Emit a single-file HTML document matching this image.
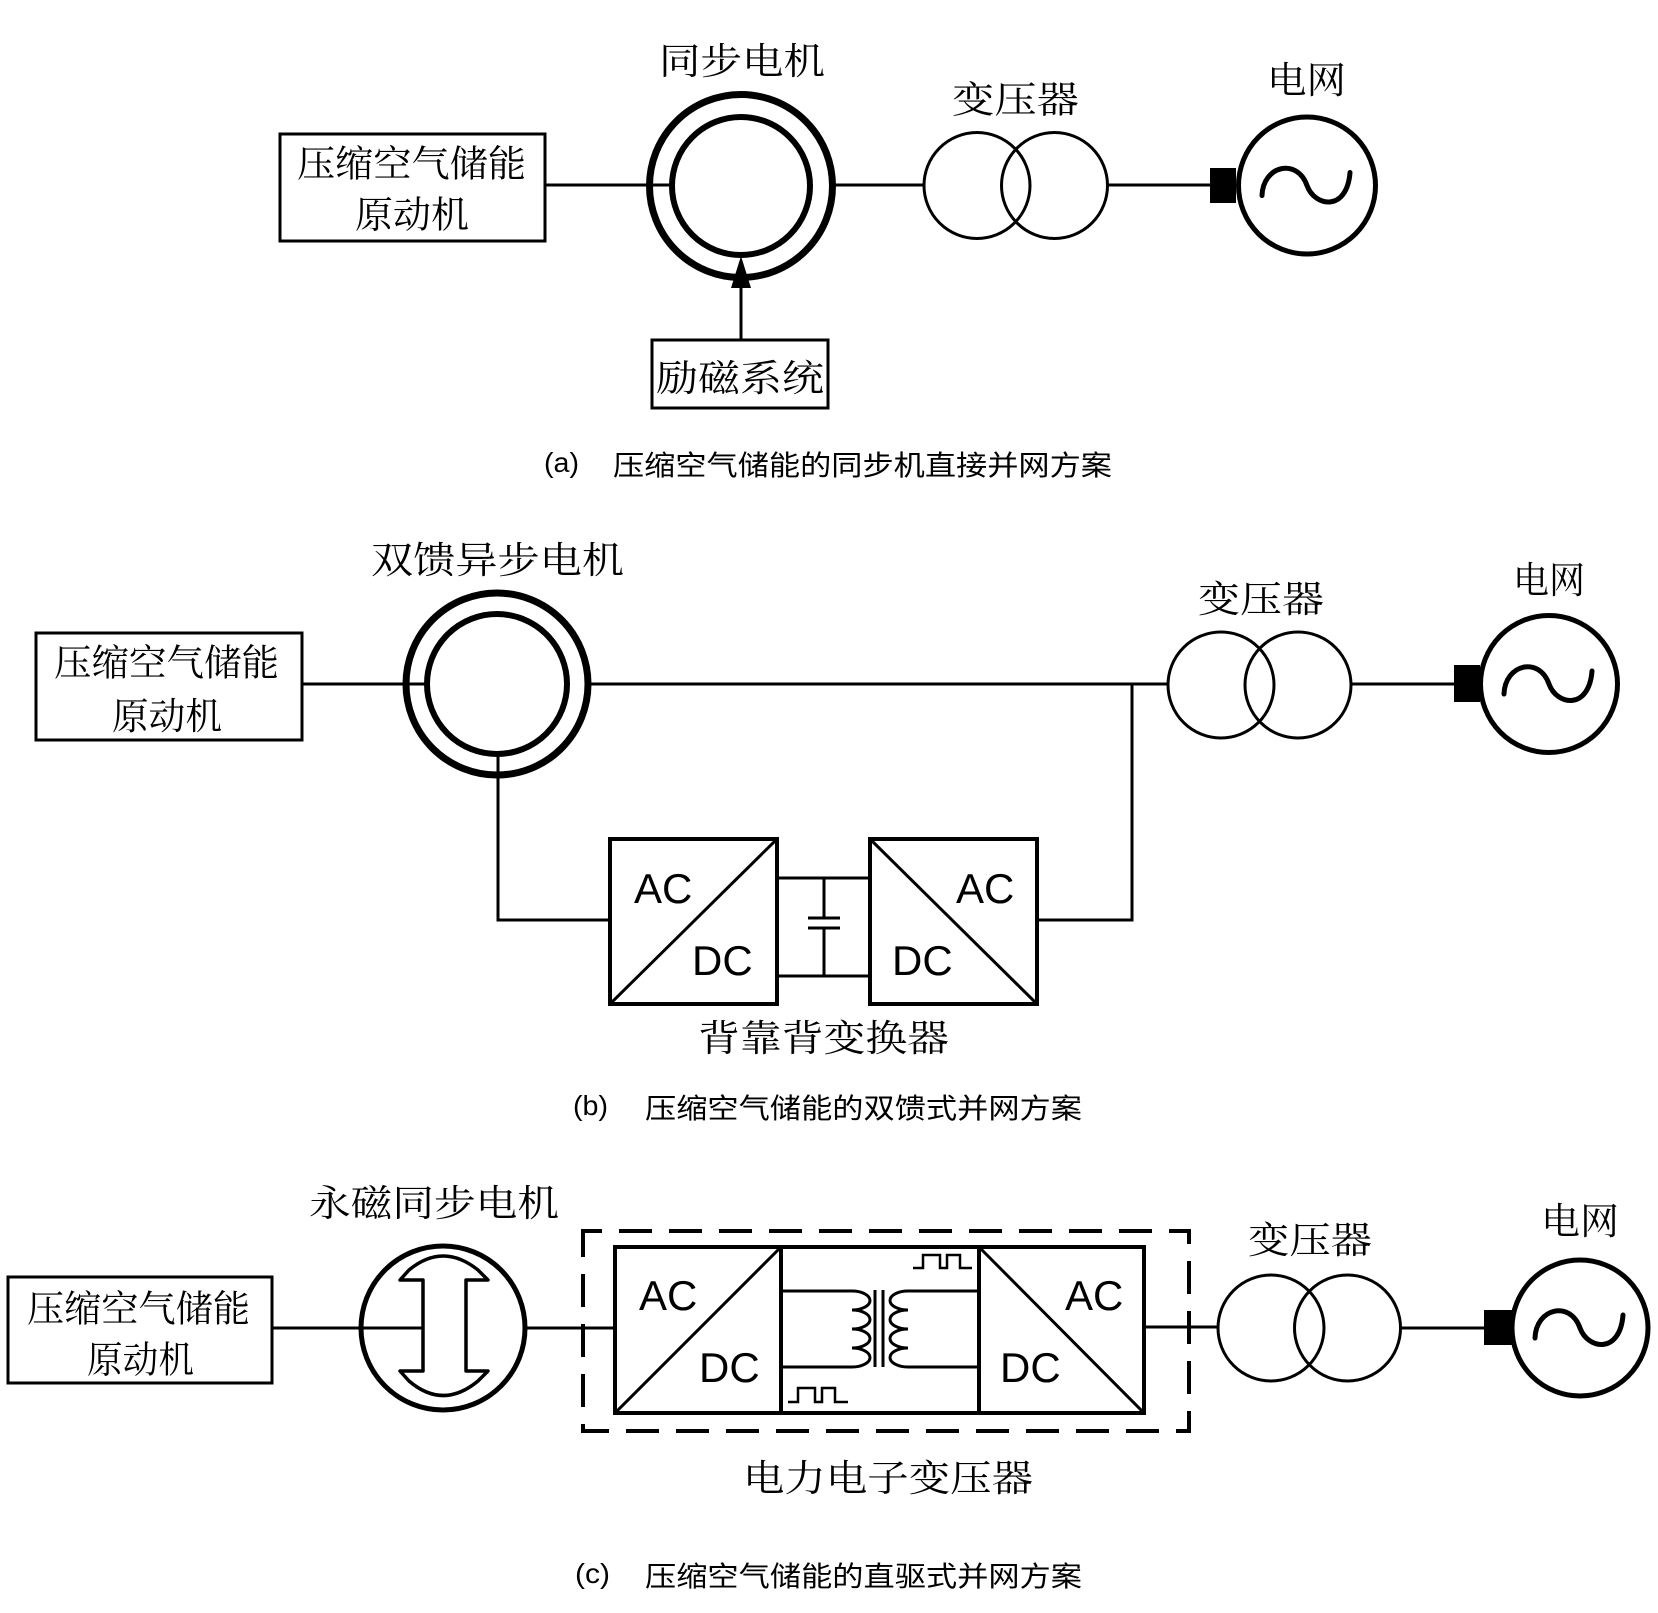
<!DOCTYPE html>
<html>
<head>
<meta charset="utf-8">
<style>
  html, body { margin: 0; padding: 0; background: #ffffff; }
  body { width: 1658px; height: 1613px; overflow: hidden; }
  svg { display: block; }
  .lbl { font-family: "Noto Serif CJK SC", "Liberation Serif", serif; font-size: 37px; fill: #000; }
  .acdc { font-family: "Liberation Sans", sans-serif; font-size: 42px; fill: #000; }
  .cap { font-family: "Liberation Sans", "Noto Sans CJK SC", sans-serif; font-size: 28px; fill: #000; }
</style>
</head>
<body>
<svg width="1658" height="1613" viewBox="0 0 1658 1613" xmlns="http://www.w3.org/2000/svg">
  <rect x="0" y="0" width="1658" height="1613" fill="#fff"/>

  <!-- ===================== (a) ===================== -->
  <g fill="none" stroke="#000">
    <rect x="280" y="134" width="265" height="107" stroke-width="3"/>
    <path d="M545,185 H672" stroke-width="3"/>
    <circle cx="741" cy="186" r="91.5" stroke-width="7"/>
    <circle cx="741" cy="186" r="69" stroke-width="6"/>
    <path d="M833,185 H925" stroke-width="3"/>
    <path d="M741,340 V284" stroke-width="3"/>
    <rect x="652" y="340" width="176" height="68" stroke-width="3"/>
    <circle cx="977" cy="185.5" r="53" stroke-width="3"/>
    <circle cx="1054.5" cy="185.5" r="53" stroke-width="3"/>
    <path d="M1107,185 H1212" stroke-width="3"/>
    <circle cx="1307" cy="185.5" r="68.5" stroke-width="5"/>
    <path d="M1262,195.5 C1263,165.5 1297,157.5 1307,185.5 C1315,207.5 1347,211.5 1350,172.5" stroke-width="5" stroke-linecap="round"/>
  </g>
  <polygon points="741,256 731,288 751,288" fill="#000"/>
  <rect x="1210" y="168" width="26" height="35" fill="#000"/>

  <text class="lbl" x="297" y="176.5" textLength="229" lengthAdjust="spacingAndGlyphs">压缩空气储能</text>
  <text class="lbl" x="355" y="227.5" textLength="114" lengthAdjust="spacingAndGlyphs">原动机</text>
  <text class="lbl" x="659" y="74" textLength="166" lengthAdjust="spacingAndGlyphs">同步电机</text>
  <text class="lbl" x="656" y="391" textLength="168" lengthAdjust="spacingAndGlyphs">励磁系统</text>
  <text class="lbl" x="952" y="112.5" textLength="127" lengthAdjust="spacingAndGlyphs">变压器</text>
  <text class="lbl" x="1267" y="93" textLength="79" lengthAdjust="spacingAndGlyphs">电网</text>

  <text class="cap" x="544" y="472" textLength="35" lengthAdjust="spacingAndGlyphs">(a)</text>
  <text class="cap" x="613" y="475" textLength="499" lengthAdjust="spacingAndGlyphs">压缩空气储能的同步机直接并网方案</text>

  <!-- ===================== (b) ===================== -->
  <g fill="none" stroke="#000">
    <rect x="36" y="633" width="266" height="107" stroke-width="3"/>
    <path d="M302,684 H428" stroke-width="3"/>
    <circle cx="497" cy="684" r="91" stroke-width="7"/>
    <circle cx="497" cy="684" r="70" stroke-width="6"/>
    <path d="M588,684 H1168" stroke-width="3"/>
    <path d="M498,756 V920 H610" stroke-width="3"/>
    <rect x="610" y="839" width="167" height="165" stroke-width="4"/>
    <path d="M610,1004 L777,839" stroke-width="3"/>
    <path d="M777,878 H870 M777,976 H870" stroke-width="3"/>
    <path d="M824,878 V918 M808,918 H840 M808,928 H840 M824,928 V976" stroke-width="3"/>
    <rect x="870" y="839" width="167" height="165" stroke-width="4"/>
    <path d="M870,839 L1037,1004" stroke-width="3"/>
    <path d="M1037,920 H1132 V684" stroke-width="3"/>
    <circle cx="1221" cy="685" r="53" stroke-width="3"/>
    <circle cx="1298" cy="685" r="53" stroke-width="3"/>
    <path d="M1351,684 H1456" stroke-width="3"/>
    <circle cx="1549" cy="684" r="68.5" stroke-width="5"/>
    <path d="M1504,694 C1505,664 1539,656 1549,684 C1557,706 1589,710 1592,671" stroke-width="5" stroke-linecap="round"/>
  </g>
  <rect x="1454" y="665" width="26" height="37" fill="#000"/>

  <text class="lbl" x="54" y="675.5" textLength="225" lengthAdjust="spacingAndGlyphs">压缩空气储能</text>
  <text class="lbl" x="112" y="729" textLength="110" lengthAdjust="spacingAndGlyphs">原动机</text>
  <text class="lbl" x="371" y="573" textLength="253" lengthAdjust="spacingAndGlyphs">双馈异步电机</text>
  <text class="lbl" x="1198" y="612" textLength="126" lengthAdjust="spacingAndGlyphs">变压器</text>
  <text class="lbl" x="1513" y="593" textLength="72" lengthAdjust="spacingAndGlyphs">电网</text>
  <text class="lbl" x="698" y="1051" textLength="251" lengthAdjust="spacingAndGlyphs">背靠背变换器</text>

  <text class="acdc" x="634" y="903">AC</text>
  <text class="acdc" x="692" y="975">DC</text>
  <text class="acdc" x="956" y="903">AC</text>
  <text class="acdc" x="892" y="975">DC</text>

  <text class="cap" x="573" y="1115" textLength="35" lengthAdjust="spacingAndGlyphs">(b)</text>
  <text class="cap" x="645" y="1118" textLength="437" lengthAdjust="spacingAndGlyphs">压缩空气储能的双馈式并网方案</text>

  <!-- ===================== (c) ===================== -->
  <g fill="none" stroke="#000">
    <rect x="8" y="1277" width="264" height="106" stroke-width="3"/>
    <path d="M272,1328 H423" stroke-width="3"/>
    <circle cx="443" cy="1328" r="82" stroke-width="5"/>
    <path d="M423,1280 L400,1280 L409,1270 Q443,1242 478,1270 L488,1280 L466,1280 L466,1371 L488,1371 L478,1381 Q443,1410 409,1381 L400,1371 L423,1371 Z" stroke-width="3.5" stroke-linejoin="round"/>
    <path d="M525,1328 H615" stroke-width="3"/>
    <rect x="583" y="1231" width="606" height="200" stroke-width="4" stroke-dasharray="33 17" stroke-dashoffset="14"/>
    <rect x="615" y="1247" width="529" height="166" stroke-width="4"/>
    <path d="M781,1247 V1413 M979,1247 V1413" stroke-width="4"/>
    <path d="M615,1413 L781,1247" stroke-width="3"/>
    <path d="M979,1247 L1144,1413" stroke-width="3"/>
    <path d="M781,1291 H852 A18,9.5 0 0 1 852,1310 A18,9.5 0 0 1 852,1329 A18,9.5 0 0 1 852,1348 A18,9.5 0 0 1 852,1367 H781" stroke-width="3"/>
    <path d="M875,1290 V1367 M883,1290 V1367" stroke-width="3"/>
    <path d="M979,1291 H908 A18,9.5 0 0 0 908,1310 A18,9.5 0 0 0 908,1329 A18,9.5 0 0 0 908,1348 A18,9.5 0 0 0 908,1367 H979" stroke-width="3"/>
    <path d="M913,1268 H923 V1255 H940 V1268 H947 V1255 H960 V1268 H972" stroke-width="2.5"/>
    <path d="M788,1402 H798 V1388 H815 V1402 H822 V1388 H835 V1402 H848" stroke-width="2.5"/>
    <path d="M1144,1327 H1218" stroke-width="3"/>
    <circle cx="1271" cy="1328" r="53" stroke-width="3"/>
    <circle cx="1347.5" cy="1328" r="53" stroke-width="3"/>
    <path d="M1400,1328 H1486" stroke-width="3"/>
    <circle cx="1580" cy="1328" r="68" stroke-width="5"/>
    <path d="M1535,1338 C1536,1308 1570,1300 1580,1328 C1588,1350 1620,1354 1623,1315" stroke-width="5" stroke-linecap="round"/>
  </g>
  <rect x="1484" y="1310" width="28" height="35" fill="#000"/>

  <text class="lbl" x="27" y="1321.5" textLength="223" lengthAdjust="spacingAndGlyphs">压缩空气储能</text>
  <text class="lbl" x="87" y="1372.5" textLength="107" lengthAdjust="spacingAndGlyphs">原动机</text>
  <text class="lbl" x="309" y="1216" textLength="250" lengthAdjust="spacingAndGlyphs">永磁同步电机</text>
  <text class="lbl" x="1248" y="1253" textLength="124" lengthAdjust="spacingAndGlyphs">变压器</text>
  <text class="lbl" x="1541" y="1234" textLength="78" lengthAdjust="spacingAndGlyphs">电网</text>
  <text class="lbl" x="743" y="1491" textLength="290" lengthAdjust="spacingAndGlyphs">电力电子变压器</text>

  <text class="acdc" x="639" y="1310">AC</text>
  <text class="acdc" x="699" y="1382">DC</text>
  <text class="acdc" x="1065" y="1310">AC</text>
  <text class="acdc" x="1000" y="1382">DC</text>

  <text class="cap" x="575" y="1583" textLength="35" lengthAdjust="spacingAndGlyphs">(c)</text>
  <text class="cap" x="645" y="1586" textLength="437" lengthAdjust="spacingAndGlyphs">压缩空气储能的直驱式并网方案</text>
</svg>
</body>
</html>
